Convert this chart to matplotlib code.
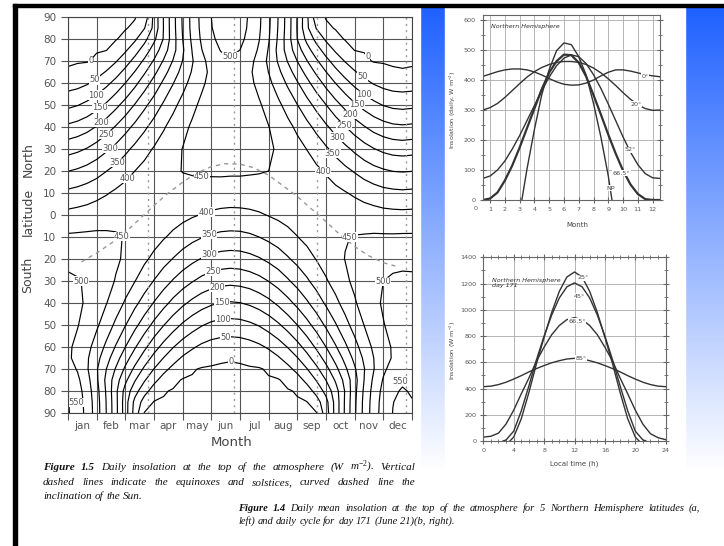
import numpy as np
import matplotlib
matplotlib.use('Agg')
import matplotlib.pyplot as plt
from matplotlib.patches import Rectangle

W, H = 724, 546
plt.rcParams['mathtext.fontset'] = 'custom'
plt.rcParams['mathtext.it'] = 'Liberation Serif:italic'
plt.rcParams['mathtext.rm'] = 'Liberation Serif'

# ---------- data ----------

# daily insolation (W m-2), one list per latitude, every third of a month from jan 1 to dec 31
grid_month = np.linspace(0, 12, 37)
q_n90 = [0, 0, 0, 0, 0, 0, 0, 0, 18, 113, 202, 283, 356, 416, 465, 500, 520, 526, 518, 495, 459, 410, 349, 277, 197,
         110, 19, 0, 0, 0, 0, 0, 0, 0, 0, 0, 0]
q_n85 = [0, 0, 0, 0, 0, 0, 0, 8, 48, 113, 201, 282, 354, 415, 463, 498, 518, 524, 516, 493, 457, 408, 347, 276, 196,
         110, 47, 8, 0, 0, 0, 0, 0, 0, 0, 0, 0]
q_n80 = [0, 0, 0, 0, 0, 0, 11, 42, 85, 139, 203, 279, 350, 410, 458, 492, 512, 518, 510, 488, 452, 404, 343, 273, 199,
         137, 84, 42, 12, 0, 0, 0, 0, 0, 0, 0, 0]
q_n75 = [0, 0, 0, 0, 1, 16, 43, 79, 122, 172, 226, 283, 343, 402, 449, 483, 502, 508, 500, 478, 443, 396, 337, 278,
         222, 169, 121, 78, 43, 17, 1, 0, 0, 0, 0, 0, 0]
q_n70 = [0, 0, 0, 7, 22, 46, 78, 116, 159, 205, 254, 303, 351, 396, 437, 469, 489, 495, 487, 465, 431, 390, 345, 297,
         249, 202, 157, 115, 78, 47, 23, 8, 0, 0, 0, 0, 0]
q_n65 = [4, 9, 17, 32, 53, 80, 114, 152, 194, 237, 282, 325, 367, 404, 436, 460, 475, 480, 473, 457, 431, 399, 361,
         320, 277, 234, 191, 151, 113, 81, 54, 33, 18, 9, 4, 3, 4]
q_n60 = [27, 33, 45, 63, 87, 116, 150, 187, 227, 268, 309, 348, 384, 416, 443, 463, 475, 479, 473, 460, 438, 411, 378,
         342, 304, 264, 224, 185, 149, 116, 87, 64, 46, 34, 27, 25, 27]
q_n50 = [89, 98, 112, 132, 157, 187, 219, 253, 289, 323, 357, 388, 416, 440, 459, 473, 481, 484, 480, 470, 455, 435,
         410, 382, 351, 319, 285, 251, 217, 186, 157, 133, 113, 98, 89, 86, 89]
q_n40 = [160, 169, 183, 203, 227, 254, 283, 312, 341, 369, 395, 419, 439, 456, 469, 478, 483, 485, 482, 475, 465, 451,
         433, 413, 390, 364, 337, 308, 280, 252, 226, 203, 183, 169, 160, 157, 160]
q_n30 = [231, 240, 253, 271, 292, 314, 338, 362, 384, 404, 423, 438, 451, 461, 468, 473, 476, 477, 475, 471, 465, 456,
         445, 432, 417, 399, 379, 357, 334, 312, 290, 269, 252, 239, 231, 228, 231]
q_n20 = [299, 307, 318, 332, 349, 366, 384, 400, 415, 427, 437, 445, 451, 454, 456, 457, 458, 457, 457, 455, 453, 450,
         446, 439, 431, 421, 409, 395, 379, 362, 346, 330, 316, 306, 299, 297, 299]
q_n10 = [361, 367, 375, 385, 396, 408, 418, 426, 433, 437, 439, 439, 438, 435, 433, 430, 428, 427, 427, 428, 430, 432,
         433, 434, 433, 431, 427, 421, 412, 403, 393, 382, 373, 365, 361, 359, 361]
q_eq0 = [414, 418, 422, 428, 433, 437, 440, 440, 438, 434, 428, 421, 413, 405, 398, 392, 388, 386, 387, 390, 395, 402,
         409, 416, 422, 428, 432, 434, 434, 432, 428, 424, 420, 416, 414, 413, 414]
q_s10 = [457, 458, 459, 459, 457, 454, 448, 440, 430, 418, 404, 390, 376, 363, 352, 343, 338, 336, 337, 342, 350, 361,
         373, 386, 399, 412, 424, 434, 442, 448, 452, 454, 456, 456, 456, 457, 457]
q_s20 = [489, 487, 483, 477, 468, 457, 443, 427, 408, 389, 368, 348, 329, 312, 297, 287, 280, 277, 279, 286, 296, 310,
         326, 345, 364, 383, 402, 420, 437, 451, 463, 472, 479, 484, 487, 489, 489]
q_s30 = [508, 503, 495, 483, 467, 447, 425, 401, 375, 348, 322, 296, 273, 253, 236, 224, 216, 213, 216, 223, 235, 251,
         271, 294, 318, 343, 369, 395, 419, 441, 460, 477, 490, 500, 507, 509, 508]
q_s40 = [516, 508, 494, 475, 452, 425, 394, 362, 330, 297, 266, 236, 210, 188, 170, 157, 149, 146, 149, 157, 170, 187,
         209, 235, 263, 293, 325, 357, 388, 418, 445, 470, 489, 505, 514, 518, 516]
q_s50 = [514, 502, 483, 457, 426, 390, 352, 313, 275, 237, 202, 171, 143, 121, 103, 90, 83, 81, 83, 91, 103, 121, 143,
         170, 200, 234, 270, 308, 346, 384, 419, 451, 478, 498, 512, 517, 514]
q_s60 = [507, 490, 464, 430, 390, 346, 300, 255, 211, 170, 134, 102, 76, 56, 40, 30, 25, 23, 25, 31, 41, 56, 76, 102,
         133, 168, 208, 250, 295, 340, 383, 424, 459, 486, 504, 511, 507]
q_s65 = [507, 487, 456, 416, 370, 321, 271, 223, 177, 135, 99, 69, 44, 27, 15, 7, 4, 3, 4, 8, 15, 27, 45, 69, 98, 134,
         174, 219, 266, 315, 363, 409, 450, 482, 504, 513, 507]
q_s70 = [521, 496, 455, 405, 351, 296, 241, 189, 141, 99, 64, 37, 17, 4, 0, 0, 0, 0, 0, 0, 0, 5, 17, 37, 64, 98, 139,
         185, 236, 290, 344, 398, 448, 491, 518, 528, 521]
q_s75 = [535, 510, 467, 409, 339, 273, 211, 154, 105, 63, 31, 9, 0, 0, 0, 0, 0, 0, 0, 0, 0, 0, 0, 10, 31, 63, 103, 151,
         206, 266, 331, 401, 460, 504, 532, 543, 535]
q_s80 = [546, 520, 476, 417, 345, 262, 182, 119, 67, 28, 4, 0, 0, 0, 0, 0, 0, 0, 0, 0, 0, 0, 0, 0, 4, 28, 66, 116, 178,
         254, 336, 409, 469, 514, 543, 554, 546]
q_s85 = [552, 526, 482, 422, 349, 265, 173, 86, 29, 0, 0, 0, 0, 0, 0, 0, 0, 0, 0, 0, 0, 0, 0, 0, 0, 1, 29, 83, 168,
         257, 340, 414, 474, 520, 549, 560, 552]
q_s90 = [554, 528, 484, 424, 350, 266, 174, 78, 0, 0, 0, 0, 0, 0, 0, 0, 0, 0, 0, 0, 0, 0, 0, 0, 0, 0, 0, 75, 168, 258,
         342, 415, 476, 522, 551, 562, 554]
grid_lat = [90, 85, 80, 75, 70, 65, 60, 50, 40, 30, 20, 10, 0, -10, -20, -30, -40, -50, -60, -65, -70, -75, -80, -85,
            -90]

months = ['jan', 'feb', 'mar', 'apr', 'may', 'jun', 'jul', 'aug', 'sep', 'oct', 'nov', 'dec']
season_x = [2.8, 5.8, 8.7, 11.8]
decl_x = [0.47, 1, 1.5, 2, 2.45, 3, 3.47, 4, 4.45, 5, 5.47, 6, 6.45, 7, 7.45, 8, 8.47, 9, 9.45, 10, 10.47, 11, 11.45]
decl_y = [-21.3, -17.3, -12.9, -7.9, -2.4, 4.3, 9.7, 14.9, 18.8, 22.0, 23.3, 23.1, 21.6, 18.1, 13.8, 8.4, 3.0,
          -3.0, -8.5, -14.3, -18.4, -21.7, -23.3]
label_pos = {
    0: [(0.83, 70), (10.42, 71.6), (5.69, -66.3)],
    50: [(1.0, 59.8), (10.24, 62), (5.48, -54.9)],
    100: [(1.08, 52.5), (10.39, 56), (5.4, -47.3)],
    150: [(1.23, 46.8), (10.18, 52.2), (5.36, -39.8)],
    200: [(1.26, 40), (9.78, 44.9), (5.19, -32.9)],
    250: [(1.43, 35), (9.6, 40.3), (5.07, -26)],
    300: [(1.56, 28.6), (9.37, 35), (4.95, -18.5)],
    350: [(1.79, 22.9), (9.2, 27.6), (4.95, -9.8)],
    400: [(2.16, 15.7), (8.9, 19.5), (4.84, 1)],
    450: [(4.66, 15), (2.02, -7.5), (9.72, -9)],
    500: [(5.59, 70), (0.71, -29.4), (10.88, -29.9)],
}
label_550 = [(0.3, -85.3), (11.6, -75.5)]

# annual cycle, northern hemisphere (fig 1.4a)
month_x = [0.5 + 0.5*i for i in range(25)]
q_eq = [412, 420, 428, 434, 437, 437, 434, 427, 417, 405, 394, 386, 383, 384, 390, 400, 414, 426, 434, 434, 430,
        424, 418, 414, 411]
q_20 = [300, 308, 322, 342, 365, 388, 410, 428, 442, 452, 459, 462, 462, 459, 452, 440, 424, 404, 382, 358, 336,
        318, 305, 299, 300]
q_52 = [72, 80, 100, 130, 170, 215, 265, 315, 365, 410, 448, 473, 484, 478, 455, 418, 372, 320, 265, 210, 160, 118,
        88, 74, 72]
q_665 = [0, 5, 25, 65, 115, 175, 240, 305, 370, 425, 463, 485, 483, 458, 412, 350, 285, 218, 155, 98, 52, 20, 3, 0, 0]
np_x = [3.15, 3.5, 4, 4.5, 5, 5.5, 6, 6.5, 7, 7.5, 8, 8.5, 9, 9.25]
q_np = [0, 104, 235, 352, 435, 498, 524, 518, 478, 417, 322, 210, 80, 0]

# daily cycle, day 171 (fig 1.4b)
hours = list(range(25))
d_85 = [414, 418, 430, 448, 472, 498, 527, 552, 575, 596, 612, 625, 630, 625, 612, 596, 575, 552, 527, 498, 472,
        448, 430, 418, 414]
d_665 = [30, 36, 60, 130, 235, 360, 480, 610, 715, 810, 880, 925, 940, 925, 880, 810, 715, 610, 480, 360, 235, 128,
         55, 25, 10]
h_45 = [2.6, 3, 4, 5, 6, 7, 8, 9, 10, 11, 12, 13, 14, 15, 16, 17, 18, 19, 20, 21, 21.4]
d_45 = [0, 8, 75, 230, 420, 620, 800, 960, 1090, 1175, 1205, 1175, 1090, 960, 800, 620, 420, 230, 75, 8, 0]
h_25 = [3.5, 4, 5, 6, 7, 8, 9, 10, 11, 12, 13, 14, 15, 16, 17, 18, 19, 20, 20.5]
d_25 = [0, 30, 170, 370, 590, 790, 980, 1140, 1250, 1288, 1250, 1140, 980, 790, 590, 370, 170, 30, 0]

Z = np.array([q_n90, q_n85, q_n80, q_n75, q_n70, q_n65, q_n60, q_n50, q_n40, q_n30, q_n20, q_n10, q_eq0, q_s10, q_s20,
              q_s30, q_s40, q_s50, q_s60, q_s65, q_s70, q_s75, q_s80, q_s85, q_s90])


def px_ax(fig, l, t_, r, b):
    # axes placed by pixel box (left, top, right, bottom)
    return fig.add_axes([l/W, 1-b/H, (r-l)/W, (b-t_)/H])


fig = plt.figure(figsize=(W/100, H/100), dpi=100)
bg = fig.add_axes([0, 0, 1, 1])
f = np.clip((np.arange(7, H)-7)/463., 0, 1)[:, None]
top = np.array([0.12, 0.38, 1.0]); bot = np.array([1.0, 1.0, 1.0])
grad = (top*(1-f) + bot*f)[:, None, :]
bg.imshow(grad, extent=[420, W, H, 7], aspect='auto')
bg.add_patch(Rectangle((16, 7), 404, H, color='white'))
bg.add_patch(Rectangle((445, 7), 240, 476, color='white'))
bg.add_patch(Rectangle((13, 4), 3.5, H, color='black'))
bg.add_patch(Rectangle((13, 4), W, 3.2, color='black'))
bg.set_xlim(0, W); bg.set_ylim(H, 0); bg.axis('off')
renderer = fig.canvas.get_renderer()

# ---------- fig 1.5, contour chart ----------
ax = px_ax(fig, 68, 17, 412, 413)
for lev, pos in label_pos.items():
    draw_lev = 2 if lev == 0 else lev   # edge of the polar night, just above zero
    cs = ax.contour(grid_month, grid_lat, Z, levels=[draw_lev], colors='k', linewidths=0.85)
    for tx in ax.clabel(cs, manual=pos, fmt={draw_lev: str(lev)}, fontsize=6, colors='#555', inline=False):
        tx.set_rotation(0)
        tx.set_bbox(dict(fc='white', ec='none', pad=0.1))
ax.contour(grid_month, grid_lat, Z, levels=[550], colors='k', linewidths=0.85)
for x, y in label_550:
    ax.text(x, y, '550', fontsize=6, color='#555', ha='center', va='center',
            bbox=dict(fc='white', ec='none', pad=0.1))
for x in season_x:
    ax.axvline(x, color='#999', lw=1, ls=(0, (1.5, 3)))
ax.plot(decl_x, decl_y, color='#999', lw=1, ls=(0, (3, 3)))
ax.set_xlim(0, 12); ax.set_ylim(-90, 90)
ax.set_yticks(np.arange(-90, 91, 10))
ax.set_yticklabels([str(abs(v)) for v in range(-90, 91, 10)])
ax.set_xticks(np.arange(13))
ax.set_xticklabels([])
ax.set_xticks(np.arange(12)+0.5, minor=True)
ax.set_xticklabels(months, minor=True)
ax.grid(True, color='#555', lw=0.8)
ax.tick_params(axis='both', which='both', direction='out', length=5, color='#555', labelcolor='#555', labelsize=7.5)
ax.tick_params(axis='x', which='minor', length=0, pad=6)
plt.setp(ax.spines.values(), color='#444', lw=0.8)
bg.text(232, 442, 'Month', ha='center', va='center', fontsize=9.5, color='#444')
for s, y in [('North', 160), ('latitude', 212), ('South', 275)]:
    bg.text(28, y, s, ha='center', va='center', rotation=90, fontsize=9, color='#444')

# ---------- fig 1.4a, annual cycle ----------
small = 4.6
a1 = px_ax(fig, 482.7, 15, 660, 200)
for y, lw in [(q_eq, 1), (q_20, 1), (q_52, 1), (q_665, 1.6)]:
    a1.plot(month_x, y, color='#333', lw=lw)
a1.plot(np_x, q_np, color='#333', lw=1)
a1.set_xlim(0.5, 12.5); a1.set_ylim(0, 617)
a1.set_xticks(range(1, 13))
a1.set_yticks(range(0, 601, 100)); a1.set_yticks(range(50, 601, 100), minor=True)
a1.text(0, -0.035, '0', transform=a1.get_xaxis_transform(), ha='center', va='top', fontsize=small, color='#555')
for s, x, y in [('0°', 11.47, 413), ('20°', 10.89, 319), ('52°', 10.47, 167), ('66.5°', 9.9, 89), ('NP', 9.16, 39)]:
    a1.text(x, y, s, fontsize=small, color='#444', ha='center', va='center',
            bbox=dict(fc='white', ec='none', pad=0.3))
a1.text(0.045, 0.93, 'Northern Hemisphere', transform=a1.transAxes, fontsize=small, style='italic', color='#333')
bg.text(453, 110, 'Insolation (daily, W m$^{-2}$)', rotation=90, ha='center', va='center', fontsize=small,
        color='#444')
bg.text(577, 225, 'Month', ha='center', va='center', fontsize=5, color='#444')

# ---------- fig 1.4b, daily cycle ----------
a2 = px_ax(fig, 483.3, 257.3, 665.7, 441)
a2.plot(hours, d_85, color='#333', lw=1)
a2.plot(hours, d_665, color='#333', lw=1)
a2.plot(h_45, d_45, color='#333', lw=1)
a2.plot(h_25, d_25, color='#333', lw=1)
a2.set_xlim(0, 24); a2.set_ylim(0, 1400)
a2.set_xticks(range(0, 25, 4)); a2.set_xticks(range(25), minor=True)
a2.set_yticks(range(0, 1401, 200)); a2.set_yticks(range(100, 1400, 200), minor=True)
for s, x, y in [('25°', 13.1, 1244), ('45°', 12.7, 1105), ('66.5°', 12.3, 914), ('85°', 12.9, 630)]:
    a2.text(x, y, s, fontsize=small, color='#444', ha='center', va='center',
            bbox=dict(fc='white', ec='none', pad=0.3))
a2.text(0.05, 0.84, 'Northern Hemisphere\nday 171', transform=a2.transAxes, fontsize=small, style='italic',
        color='#333', linespacing=1.0)
bg.text(453, 350, 'Insolation (W m$^{-2}$)', rotation=90, ha='center', va='center', fontsize=small, color='#444')
bg.text(574, 464, 'Local time (h)', ha='center', va='center', fontsize=5, color='#444')

for a in (a1, a2):
    a.grid(True, which='major', color='#aaa', lw=0.6)
    a.tick_params(which='both', direction='inout', color='#666', labelcolor='#555', labelsize=small,
                  right=True, top=(a is a2), pad=2.5)
    a.tick_params(which='major', length=5)
    a.tick_params(which='minor', length=3)
    plt.setp(a.spines.values(), color='#666', lw=0.8)


# ---------- captions ----------
def caption(words, x0, y, size, x1=None, bold_first=2):
    # word by word, spread out to x1 when the line is justified
    kw = dict(fontsize=size, family='Liberation Serif', style='italic', va='baseline', color='#111')
    texts = [bg.text(0, y, w, weight='bold' if i < bold_first else 'normal', **kw) for i, w in enumerate(words)]
    widths = [tx.get_window_extent(renderer).width for tx in texts]
    space = size*100/72*0.25
    gap = space if x1 is None else (x1 - x0 - sum(widths))/(len(words)-1)
    x = x0
    for tx, w in zip(texts, widths):
        tx.set_x(x)
        x += w + gap


caption('Figure 1.5 Daily insolation at the top of the atmosphere (W m$^{-2}$). Vertical'.split(), 43, 470, 8,
        x1=415)
caption('dashed lines indicate the equinoxes and solstices, curved dashed line the'.split(), 43, 485, 8, x1=415,
        bold_first=0)
caption('inclination of the Sun.'.split(), 43, 499, 8, bold_first=0)
caption('Figure 1.4 Daily mean insolation at the top of the atmosphere for 5 Northern Hemisphere latitudes (a,'
        .split(), 238, 511, 7.6, x1=700)
caption('left) and daily cycle for day 171 (June 21)(b, right).'.split(), 238, 524, 7.6, bold_first=0)

fig.savefig('out.png', dpi=100)
